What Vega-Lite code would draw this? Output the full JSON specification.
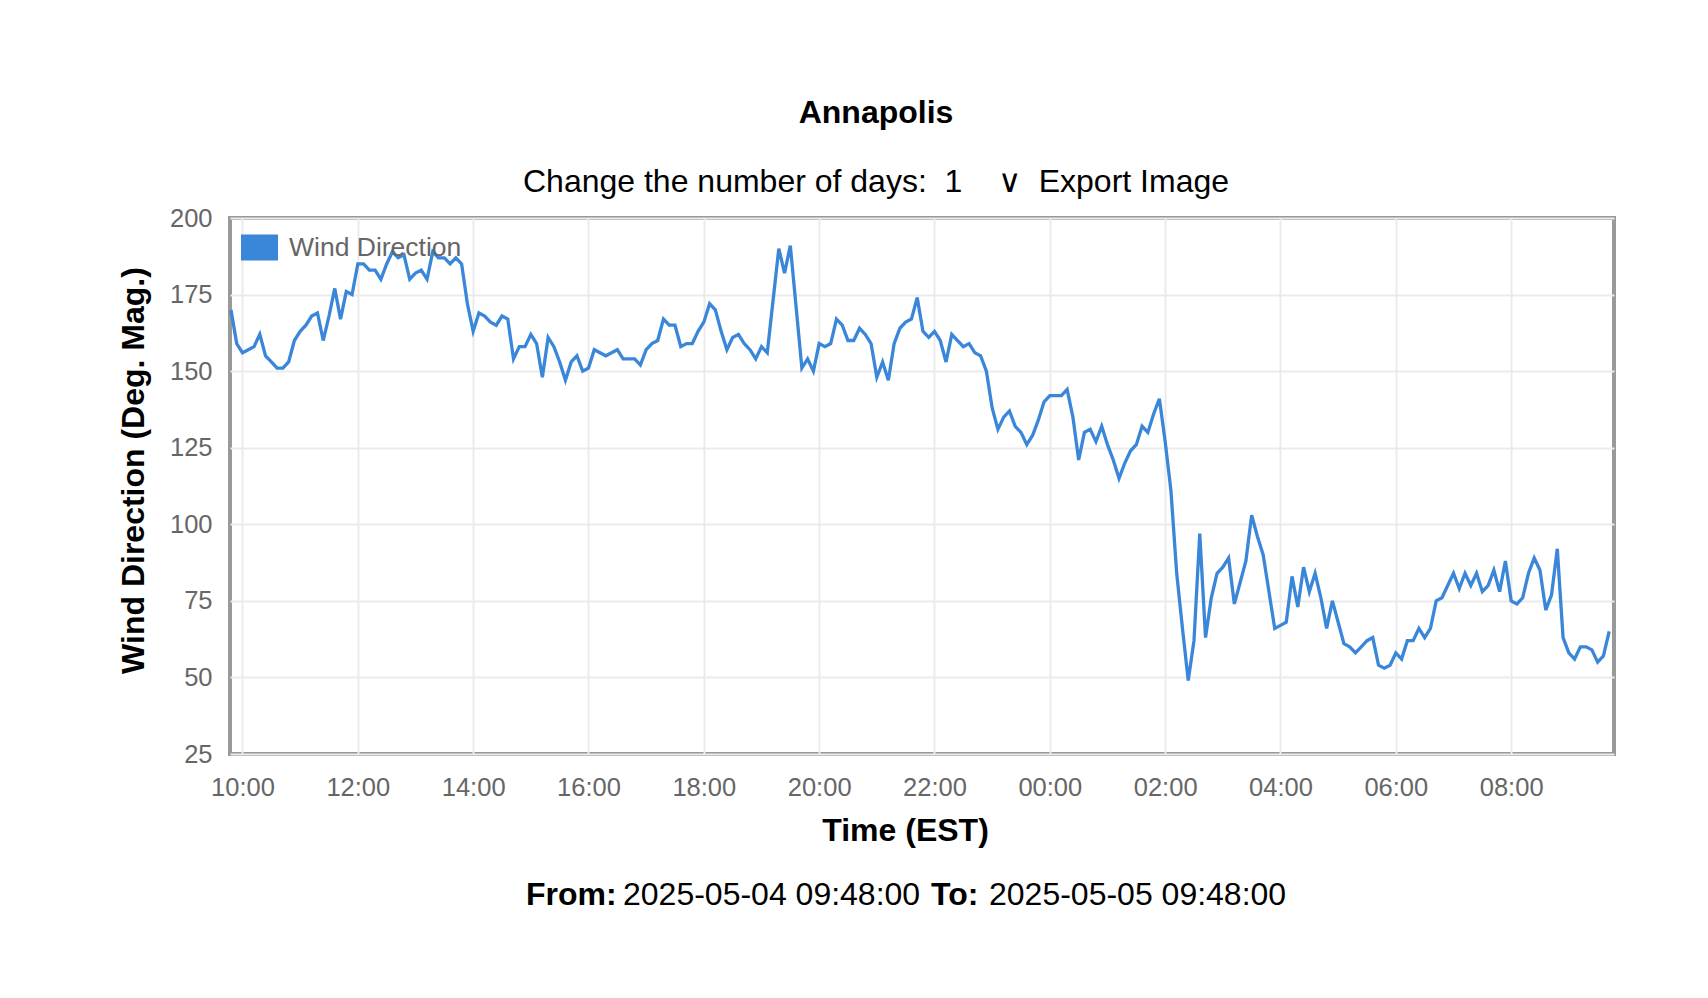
{
  "$schema": "https://vega.github.io/schema/vega-lite/v6.json",
  "background": "white",
  "autosize": {"type": "none"},
  "padding": {"left": 230, "top": 218, "right": 94, "bottom": 244},
  "width": 1384,
  "height": 536,
  "title": {
    "text": "Annapolis",
    "subtitle": "Change the number of days:\u00a0\u00a01\u00a0\u00a0\u00a0\u00a0∨\u00a0\u00a0Export Image",
    "anchor": "middle",
    "font": "Liberation Sans",
    "fontSize": 32,
    "fontWeight": "bold",
    "color": "#000000",
    "subtitleFont": "Liberation Sans",
    "subtitleFontSize": 32,
    "subtitleColor": "#000000",
    "subtitlePadding": 37,
    "offset": 7,
    "dx": -46
  },
  "config": {
    "view": {"fill": "#f7f7f7", "stroke": "#999999", "strokeWidth": 4},
    "axis": {
      "labelFont": "Liberation Sans",
      "labelFontSize": 25.5,
      "labelColor": "#666666",
      "titleFont": "Liberation Sans",
      "titleFontSize": 32,
      "titleFontWeight": "bold",
      "titleColor": "#000000",
      "gridColor": "#ebebeb",
      "gridWidth": 2,
      "domain": false,
      "ticks": false
    }
  },
  "data": {
    "values": [
      {"t": "2025-05-04T09:48", "v": 170}, {"t": "2025-05-04T09:54", "v": 159}, {"t": "2025-05-04T10:00", "v": 156}, {"t": "2025-05-04T10:06", "v": 157}, {"t": "2025-05-04T10:12", "v": 158},
      {"t": "2025-05-04T10:18", "v": 162}, {"t": "2025-05-04T10:24", "v": 155}, {"t": "2025-05-04T10:30", "v": 153}, {"t": "2025-05-04T10:36", "v": 151}, {"t": "2025-05-04T10:42", "v": 151},
      {"t": "2025-05-04T10:48", "v": 153}, {"t": "2025-05-04T10:54", "v": 160}, {"t": "2025-05-04T11:00", "v": 163}, {"t": "2025-05-04T11:06", "v": 165}, {"t": "2025-05-04T11:12", "v": 168},
      {"t": "2025-05-04T11:18", "v": 169}, {"t": "2025-05-04T11:24", "v": 160}, {"t": "2025-05-04T11:30", "v": 168}, {"t": "2025-05-04T11:36", "v": 177}, {"t": "2025-05-04T11:42", "v": 167},
      {"t": "2025-05-04T11:48", "v": 176}, {"t": "2025-05-04T11:54", "v": 175}, {"t": "2025-05-04T12:00", "v": 185}, {"t": "2025-05-04T12:06", "v": 185}, {"t": "2025-05-04T12:12", "v": 183},
      {"t": "2025-05-04T12:18", "v": 183}, {"t": "2025-05-04T12:24", "v": 180}, {"t": "2025-05-04T12:30", "v": 185}, {"t": "2025-05-04T12:36", "v": 189}, {"t": "2025-05-04T12:42", "v": 187},
      {"t": "2025-05-04T12:48", "v": 188}, {"t": "2025-05-04T12:54", "v": 180}, {"t": "2025-05-04T13:00", "v": 182}, {"t": "2025-05-04T13:06", "v": 183}, {"t": "2025-05-04T13:12", "v": 180},
      {"t": "2025-05-04T13:18", "v": 189}, {"t": "2025-05-04T13:24", "v": 187}, {"t": "2025-05-04T13:30", "v": 187}, {"t": "2025-05-04T13:36", "v": 185}, {"t": "2025-05-04T13:42", "v": 187},
      {"t": "2025-05-04T13:48", "v": 185}, {"t": "2025-05-04T13:54", "v": 172}, {"t": "2025-05-04T14:00", "v": 163}, {"t": "2025-05-04T14:06", "v": 169}, {"t": "2025-05-04T14:12", "v": 168},
      {"t": "2025-05-04T14:18", "v": 166}, {"t": "2025-05-04T14:24", "v": 165}, {"t": "2025-05-04T14:30", "v": 168}, {"t": "2025-05-04T14:36", "v": 167}, {"t": "2025-05-04T14:42", "v": 154},
      {"t": "2025-05-04T14:48", "v": 158}, {"t": "2025-05-04T14:54", "v": 158}, {"t": "2025-05-04T15:00", "v": 162}, {"t": "2025-05-04T15:06", "v": 159}, {"t": "2025-05-04T15:12", "v": 148},
      {"t": "2025-05-04T15:18", "v": 161}, {"t": "2025-05-04T15:24", "v": 158}, {"t": "2025-05-04T15:30", "v": 153}, {"t": "2025-05-04T15:36", "v": 147}, {"t": "2025-05-04T15:42", "v": 153},
      {"t": "2025-05-04T15:48", "v": 155}, {"t": "2025-05-04T15:54", "v": 150}, {"t": "2025-05-04T16:00", "v": 151}, {"t": "2025-05-04T16:06", "v": 157}, {"t": "2025-05-04T16:12", "v": 156},
      {"t": "2025-05-04T16:18", "v": 155}, {"t": "2025-05-04T16:24", "v": 156}, {"t": "2025-05-04T16:30", "v": 157}, {"t": "2025-05-04T16:36", "v": 154}, {"t": "2025-05-04T16:42", "v": 154},
      {"t": "2025-05-04T16:48", "v": 154}, {"t": "2025-05-04T16:54", "v": 152}, {"t": "2025-05-04T17:00", "v": 157}, {"t": "2025-05-04T17:06", "v": 159}, {"t": "2025-05-04T17:12", "v": 160},
      {"t": "2025-05-04T17:18", "v": 167}, {"t": "2025-05-04T17:24", "v": 165}, {"t": "2025-05-04T17:30", "v": 165}, {"t": "2025-05-04T17:36", "v": 158}, {"t": "2025-05-04T17:42", "v": 159},
      {"t": "2025-05-04T17:48", "v": 159}, {"t": "2025-05-04T17:54", "v": 163}, {"t": "2025-05-04T18:00", "v": 166}, {"t": "2025-05-04T18:06", "v": 172}, {"t": "2025-05-04T18:12", "v": 170},
      {"t": "2025-05-04T18:18", "v": 163}, {"t": "2025-05-04T18:24", "v": 157}, {"t": "2025-05-04T18:30", "v": 161}, {"t": "2025-05-04T18:36", "v": 162}, {"t": "2025-05-04T18:42", "v": 159},
      {"t": "2025-05-04T18:48", "v": 157}, {"t": "2025-05-04T18:54", "v": 154}, {"t": "2025-05-04T19:00", "v": 158}, {"t": "2025-05-04T19:06", "v": 156}, {"t": "2025-05-04T19:12", "v": 173},
      {"t": "2025-05-04T19:18", "v": 190}, {"t": "2025-05-04T19:24", "v": 182}, {"t": "2025-05-04T19:30", "v": 191}, {"t": "2025-05-04T19:36", "v": 171}, {"t": "2025-05-04T19:42", "v": 151},
      {"t": "2025-05-04T19:48", "v": 154}, {"t": "2025-05-04T19:54", "v": 150}, {"t": "2025-05-04T20:00", "v": 159}, {"t": "2025-05-04T20:06", "v": 158}, {"t": "2025-05-04T20:12", "v": 159},
      {"t": "2025-05-04T20:18", "v": 167}, {"t": "2025-05-04T20:24", "v": 165}, {"t": "2025-05-04T20:30", "v": 160}, {"t": "2025-05-04T20:36", "v": 160}, {"t": "2025-05-04T20:42", "v": 164},
      {"t": "2025-05-04T20:48", "v": 162}, {"t": "2025-05-04T20:54", "v": 159}, {"t": "2025-05-04T21:00", "v": 148}, {"t": "2025-05-04T21:06", "v": 153}, {"t": "2025-05-04T21:12", "v": 147},
      {"t": "2025-05-04T21:18", "v": 159}, {"t": "2025-05-04T21:24", "v": 164}, {"t": "2025-05-04T21:30", "v": 166}, {"t": "2025-05-04T21:36", "v": 167}, {"t": "2025-05-04T21:42", "v": 174},
      {"t": "2025-05-04T21:48", "v": 163}, {"t": "2025-05-04T21:54", "v": 161}, {"t": "2025-05-04T22:00", "v": 163}, {"t": "2025-05-04T22:06", "v": 160}, {"t": "2025-05-04T22:12", "v": 153},
      {"t": "2025-05-04T22:18", "v": 162}, {"t": "2025-05-04T22:24", "v": 160}, {"t": "2025-05-04T22:30", "v": 158}, {"t": "2025-05-04T22:36", "v": 159}, {"t": "2025-05-04T22:42", "v": 156},
      {"t": "2025-05-04T22:48", "v": 155}, {"t": "2025-05-04T22:54", "v": 150}, {"t": "2025-05-04T23:00", "v": 138}, {"t": "2025-05-04T23:06", "v": 131}, {"t": "2025-05-04T23:12", "v": 135},
      {"t": "2025-05-04T23:18", "v": 137}, {"t": "2025-05-04T23:24", "v": 132}, {"t": "2025-05-04T23:30", "v": 130}, {"t": "2025-05-04T23:36", "v": 126}, {"t": "2025-05-04T23:42", "v": 129},
      {"t": "2025-05-04T23:48", "v": 134}, {"t": "2025-05-04T23:54", "v": 140}, {"t": "2025-05-05T00:00", "v": 142}, {"t": "2025-05-05T00:06", "v": 142}, {"t": "2025-05-05T00:12", "v": 142},
      {"t": "2025-05-05T00:18", "v": 144}, {"t": "2025-05-05T00:24", "v": 135}, {"t": "2025-05-05T00:30", "v": 121}, {"t": "2025-05-05T00:36", "v": 130}, {"t": "2025-05-05T00:42", "v": 131},
      {"t": "2025-05-05T00:48", "v": 127}, {"t": "2025-05-05T00:54", "v": 132}, {"t": "2025-05-05T01:00", "v": 126}, {"t": "2025-05-05T01:06", "v": 121}, {"t": "2025-05-05T01:12", "v": 115},
      {"t": "2025-05-05T01:18", "v": 120}, {"t": "2025-05-05T01:24", "v": 124}, {"t": "2025-05-05T01:30", "v": 126}, {"t": "2025-05-05T01:36", "v": 132}, {"t": "2025-05-05T01:42", "v": 130},
      {"t": "2025-05-05T01:48", "v": 136}, {"t": "2025-05-05T01:54", "v": 141}, {"t": "2025-05-05T02:00", "v": 127}, {"t": "2025-05-05T02:06", "v": 111}, {"t": "2025-05-05T02:12", "v": 84},
      {"t": "2025-05-05T02:18", "v": 66}, {"t": "2025-05-05T02:24", "v": 49}, {"t": "2025-05-05T02:30", "v": 62}, {"t": "2025-05-05T02:36", "v": 97}, {"t": "2025-05-05T02:42", "v": 63},
      {"t": "2025-05-05T02:48", "v": 76}, {"t": "2025-05-05T02:54", "v": 84}, {"t": "2025-05-05T03:00", "v": 86}, {"t": "2025-05-05T03:06", "v": 89}, {"t": "2025-05-05T03:12", "v": 74},
      {"t": "2025-05-05T03:18", "v": 81}, {"t": "2025-05-05T03:24", "v": 88}, {"t": "2025-05-05T03:30", "v": 103}, {"t": "2025-05-05T03:36", "v": 96}, {"t": "2025-05-05T03:42", "v": 90},
      {"t": "2025-05-05T03:48", "v": 78}, {"t": "2025-05-05T03:54", "v": 66}, {"t": "2025-05-05T04:00", "v": 67}, {"t": "2025-05-05T04:06", "v": 68}, {"t": "2025-05-05T04:12", "v": 83},
      {"t": "2025-05-05T04:18", "v": 73}, {"t": "2025-05-05T04:24", "v": 86}, {"t": "2025-05-05T04:30", "v": 78}, {"t": "2025-05-05T04:36", "v": 84}, {"t": "2025-05-05T04:42", "v": 76},
      {"t": "2025-05-05T04:48", "v": 66}, {"t": "2025-05-05T04:54", "v": 75}, {"t": "2025-05-05T05:00", "v": 68}, {"t": "2025-05-05T05:06", "v": 61}, {"t": "2025-05-05T05:12", "v": 60},
      {"t": "2025-05-05T05:18", "v": 58}, {"t": "2025-05-05T05:24", "v": 60}, {"t": "2025-05-05T05:30", "v": 62}, {"t": "2025-05-05T05:36", "v": 63}, {"t": "2025-05-05T05:42", "v": 54},
      {"t": "2025-05-05T05:48", "v": 53}, {"t": "2025-05-05T05:54", "v": 54}, {"t": "2025-05-05T06:00", "v": 58}, {"t": "2025-05-05T06:06", "v": 56}, {"t": "2025-05-05T06:12", "v": 62},
      {"t": "2025-05-05T06:18", "v": 62}, {"t": "2025-05-05T06:24", "v": 66}, {"t": "2025-05-05T06:30", "v": 63}, {"t": "2025-05-05T06:36", "v": 66}, {"t": "2025-05-05T06:42", "v": 75},
      {"t": "2025-05-05T06:48", "v": 76}, {"t": "2025-05-05T06:54", "v": 80}, {"t": "2025-05-05T07:00", "v": 84}, {"t": "2025-05-05T07:06", "v": 79}, {"t": "2025-05-05T07:12", "v": 84},
      {"t": "2025-05-05T07:18", "v": 80}, {"t": "2025-05-05T07:24", "v": 84}, {"t": "2025-05-05T07:30", "v": 78}, {"t": "2025-05-05T07:36", "v": 80}, {"t": "2025-05-05T07:42", "v": 85},
      {"t": "2025-05-05T07:48", "v": 78}, {"t": "2025-05-05T07:54", "v": 88}, {"t": "2025-05-05T08:00", "v": 75}, {"t": "2025-05-05T08:06", "v": 74}, {"t": "2025-05-05T08:12", "v": 76},
      {"t": "2025-05-05T08:18", "v": 84}, {"t": "2025-05-05T08:24", "v": 89}, {"t": "2025-05-05T08:30", "v": 85}, {"t": "2025-05-05T08:36", "v": 72}, {"t": "2025-05-05T08:42", "v": 77},
      {"t": "2025-05-05T08:48", "v": 92}, {"t": "2025-05-05T08:54", "v": 63}, {"t": "2025-05-05T09:00", "v": 58}, {"t": "2025-05-05T09:06", "v": 56}, {"t": "2025-05-05T09:12", "v": 60},
      {"t": "2025-05-05T09:18", "v": 60}, {"t": "2025-05-05T09:24", "v": 59}, {"t": "2025-05-05T09:30", "v": 55}, {"t": "2025-05-05T09:36", "v": 57}, {"t": "2025-05-05T09:42", "v": 65}
    ]
  },
  "layer": [
    {
      "mark": {"type": "line", "strokeWidth": 3.3},
      "encoding": {
        "x": {
          "field": "t",
          "type": "temporal",
          "scale": {
            "domain": [
              {"year": 2025, "month": 5, "date": 4, "hours": 9, "minutes": 47},
              {"year": 2025, "month": 5, "date": 5, "hours": 9, "minutes": 47}
            ],
            "nice": false
          },
          "axis": {
            "title": "Time (EST)",
            "format": "%H:%M",
            "values": [
              {"year": 2025, "month": 5, "date": 4, "hours": 10},
              {"year": 2025, "month": 5, "date": 4, "hours": 12},
              {"year": 2025, "month": 5, "date": 4, "hours": 14},
              {"year": 2025, "month": 5, "date": 4, "hours": 16},
              {"year": 2025, "month": 5, "date": 4, "hours": 18},
              {"year": 2025, "month": 5, "date": 4, "hours": 20},
              {"year": 2025, "month": 5, "date": 4, "hours": 22},
              {"year": 2025, "month": 5, "date": 5, "hours": 0},
              {"year": 2025, "month": 5, "date": 5, "hours": 2},
              {"year": 2025, "month": 5, "date": 5, "hours": 4},
              {"year": 2025, "month": 5, "date": 5, "hours": 6},
              {"year": 2025, "month": 5, "date": 5, "hours": 8}
            ],
            "labelPadding": 21,
            "titlePadding": 15,
            "titleX": 675,
            "labelFlush": false,
            "labelOverlap": false
          }
        },
        "y": {
          "field": "v",
          "type": "quantitative",
          "scale": {"domain": [25, 200], "nice": false, "zero": false},
          "axis": {
            "title": "Wind Direction (Deg. Mag.)",
            "values": [25, 50, 75, 100, 125, 150, 175, 200],
            "labelPadding": 18,
            "titlePadding": 19,
            "titleY": 252
          }
        },
        "color": {
          "datum": "Wind Direction",
          "type": "nominal",
          "scale": {"range": ["#3a86d9"]},
          "legend": {
            "orient": "top-left",
            "title": null,
            "offset": 11,
            "padding": 0,
            "symbolType": "M-1,-0.68L1,-0.68L1,0.68L-1,0.68Z",
            "symbolSize": 1225,
            "labelFont": "Liberation Sans",
            "labelFontSize": 26.5,
            "labelColor": "#666666",
            "labelOffset": 11,
            "labelLimit": 0,
            "encode": {
              "symbols": {
                "update": {
                  "fill": {"value": "#3a86d9"},
                  "stroke": {"value": "#a0a0a0"},
                  "strokeWidth": {"value": 2},
                  "opacity": {"value": 1}
                }
              }
            }
          }
        }
      }
    },
    {
      "data": {"values": [{"s": "From:"}]},
      "mark": {"type": "text", "font": "Liberation Sans", "fontSize": 32, "fontWeight": "bold", "color": "#000000", "align": "left", "baseline": "middle", "dx": -396, "dy": 409},
      "encoding": {"text": {"field": "s", "type": "nominal"}}
    },
    {
      "data": {"values": [{"s": "2025-05-04 09:48:00"}]},
      "mark": {"type": "text", "font": "Liberation Sans", "fontSize": 32, "fontWeight": "normal", "color": "#000000", "align": "left", "baseline": "middle", "dx": -299, "dy": 409},
      "encoding": {"text": {"field": "s", "type": "nominal"}}
    },
    {
      "data": {"values": [{"s": "To:"}]},
      "mark": {"type": "text", "font": "Liberation Sans", "fontSize": 32, "fontWeight": "bold", "color": "#000000", "align": "left", "baseline": "middle", "dx": 9, "dy": 409},
      "encoding": {"text": {"field": "s", "type": "nominal"}}
    },
    {
      "data": {"values": [{"s": "2025-05-05 09:48:00"}]},
      "mark": {"type": "text", "font": "Liberation Sans", "fontSize": 32, "fontWeight": "normal", "color": "#000000", "align": "left", "baseline": "middle", "dx": 67, "dy": 409},
      "encoding": {"text": {"field": "s", "type": "nominal"}}
    }
  ]
}
